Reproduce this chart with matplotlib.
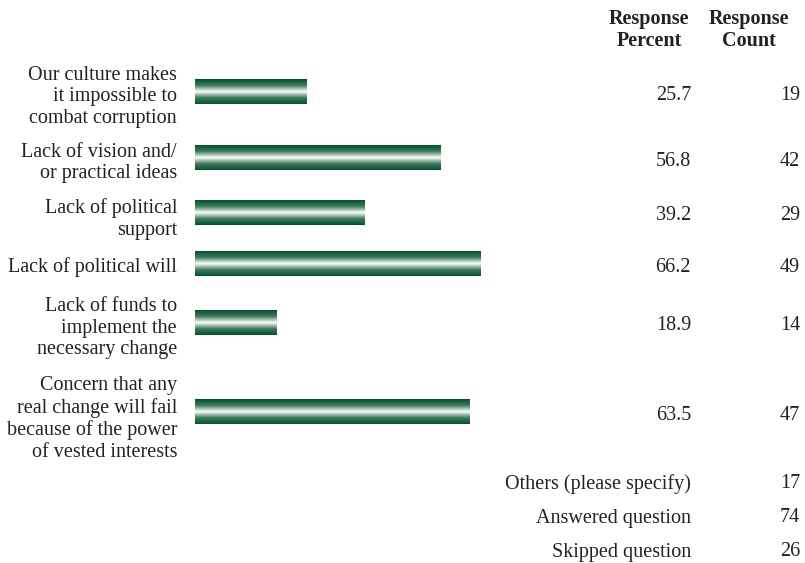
import matplotlib.pyplot as plt
import matplotlib.transforms as mtransforms
from matplotlib.colors import LinearSegmentedColormap
import numpy as np

plt.rcParams['font.family'] = ['Liberation Serif', 'DejaVu Serif']

labels = [
    "Our culture makes\nit impossible to\ncombat corruption",
    "Lack of vision and/\nor practical ideas",
    "Lack of political\nsupport",
    "Lack of political will",
    "Lack of funds to\nimplement the\nnecessary change",
    "Concern that any\nreal change will fail\nbecause of the power\nof vested interests",
]
percent = [25.7, 56.8, 39.2, 66.2, 18.9, 63.5]
count = [19, 42, 29, 49, 14, 47]

footer_labels = ["Others (please specify)", "Answered question", "Skipped question"]
footer_counts = [17, 74, 26]

# layout (pixel rows)
W, H = 805, 563
bar_y = [92, 158, 213, 264, 323, 412]
label_y = [97, 163, 219, 267, 328, 419]
footer_y = [484, 518, 552]
bar_h = 25

fig = plt.figure(figsize=(W / 100, H / 100), dpi=100)
ax = fig.add_axes([195 / W, 0, 432 / W, 1])

cmap = LinearSegmentedColormap.from_list(
    'tube', ['#00532e', '#3f7a5c', '#ffffff', '#3f7a5c', '#00532e'])
grad = np.linspace(0, 1, 64).reshape(-1, 1)

for v, y in zip(percent, bar_y):
    ax.imshow(grad, extent=[0, v, y + bar_h / 2, y - bar_h / 2],
              aspect='auto', cmap=cmap, interpolation='bilinear')

ax.set_xlim(0, 100)
ax.set_ylim(H, 0)
ax.axis('off')

tr = mtransforms.blended_transform_factory(fig.transFigure, ax.transData)
fs = 14.5
ink = '#222222'

ax.text(649 / W, 30, "Response\nPercent", transform=tr, ha='center', va='center',
        fontsize=fs, fontweight='bold', color=ink, linespacing=1.12)
ax.text(749 / W, 30, "Response\nCount", transform=tr, ha='center', va='center',
        fontsize=fs, fontweight='bold', color=ink, linespacing=1.12)

for lab, ly, y, p, c in zip(labels, label_y, bar_y, percent, count):
    ax.text(177 / W, ly, lab, transform=tr, ha='right', va='center',
            fontsize=fs, color=ink, linespacing=1.17)
    ax.text(691 / W, y + 3, f"{p:.1f}", transform=tr, ha='right', va='center',
            fontsize=fs, color=ink)
    ax.text(800 / W, y + 3, f"{c}", transform=tr, ha='right', va='center',
            fontsize=fs, color=ink)

for lab, y, c in zip(footer_labels, footer_y, footer_counts):
    ax.text(691 / W, y, lab, transform=tr, ha='right', va='center',
            fontsize=fs, color=ink)
    ax.text(800 / W, y, f"{c}", transform=tr, ha='right', va='center',
            fontsize=fs, color=ink)

fig.savefig('out.png', dpi=100)
